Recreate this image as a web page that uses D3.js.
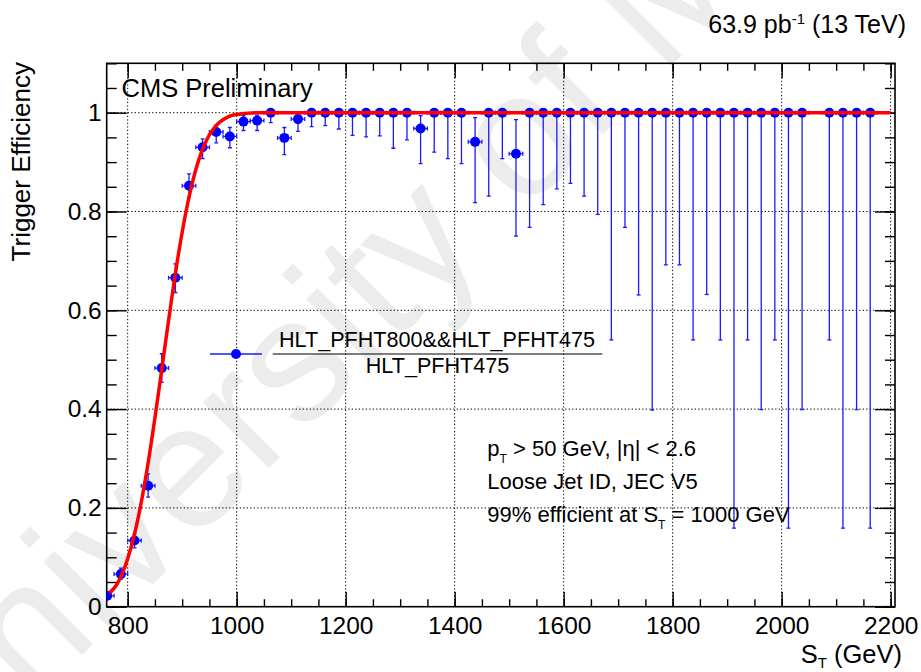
<!DOCTYPE html>
<html><head><meta charset="utf-8">
<script src="https://cdn.jsdelivr.net/npm/d3@7"></script>
<style>
body{margin:0;background:#fff;}
svg{display:block;}
text{font-family:"Liberation Sans",Arial,Helvetica,sans-serif;fill:#000;}
</style>
</head><body>
<svg id="c" width="921" height="672"></svg>
<script>
// ---------------- data ----------------
const binCenters = [762.5,787.5,812.5,837.5,862.5,887.5,912.5,937.5,962.5,987.5,
  1012.5,1037.5,1062.5,1087.5,1112.5,1137.5,1162.5,1187.5,1212.5,1237.5,
  1262.5,1287.5,1312.5,1337.5,1362.5,1387.5,1412.5,1437.5,1462.5,1487.5,
  1512.5,1537.5,1562.5,1587.5,1612.5,1637.5,1662.5,1687.5,1712.5,1737.5,
  1762.5,1787.5,1812.5,1837.5,1862.5,1887.5,1912.5,1937.5,1962.5,1987.5,
  2012.5,2037.5,2087.5,2112.5,2137.5,2162.5];
const efficiency = [0.022,0.066,0.134,0.245,0.483,0.666,0.852,0.930,0.961,0.952,
  0.982,0.984,1.0,0.949,0.987,1,1,1,1,1,
  1,1,1,0.968,1,1,1,0.941,1,1,
  0.917,1,1,1,1,1,1,1,1,1,
  1,1,1,1,1,1,1,1,1,1,
  1,1,1,1,1,1];
const errLowEnd = [0.017,0.056,0.119,0.222,0.454,0.636,0.829,0.907,0.939,0.929,
  0.964,0.964,0.980,0.915,0.962,0.972,0.974,0.967,0.954,0.951,
  0.953,0.928,0.945,0.897,0.920,0.907,0.897,0.818,0.831,0.907,
  0.750,0.768,0.814,0.846,0.857,0.831,0.794,0.540,0.768,0.631,
  0.398,0.692,0.692,0.540,0.632,0.540,0.159,0.540,0.399,0.540,
  0.159,0.399,0.540,0.159,0.399,0.159];
const errHighEnd = [0.027,0.078,0.147,0.269,0.512,0.694,0.876,0.947,0.975,0.970,
  0.994,0.995,1,0.970,0.996,1,1,1,1,1,
  1,1,1,0.994,1,1,1,0.990,1,1,
  0.986,1,1,1,1,1,1,1,1,1,
  1,1,1,1,1,1,1,1,1,1,
  1,1,1,1,1,1];
const binHalfWidth = 12.5;
// fitted turn-on curve
const fitX = [767,780,790,800,810,820,830,840,850,860,870,880,890,900,910,920,930,940,950,960,970,980,990,1000,1010,1020,1030,1040,1060,2200];
const fitY = [0.028,0.045,0.067,0.097,0.136,0.184,0.242,0.308,0.382,0.460,0.540,0.618,0.692,0.758,0.816,0.864,0.903,0.933,0.955,0.971,0.982,0.989,0.994,0.9965,0.998,0.999,0.9995,1.0,1.0,1.0];
const xMajorTicks = [800,1000,1200,1400,1600,1800,2000,2200];
const yMajorTicks = [0,0.2,0.4,0.6,0.8,1.0];
const yTickLabels = ["0","0.2","0.4","0.6","0.8","1"];
const xMinorTicks = d3.range(800, 2201, 50);
const yMinorTicks = d3.range(0, 1.101, 0.05);

// ---------------- layout ----------------
const L = 106.7, R = 895, T = 63.3, B = 606.7;
const svg = d3.select("#c");
const x = d3.scaleLinear().domain([761.5, 2208]).range([L, R]);
const y = d3.scaleLinear().domain([0, 1.1]).range([B, T]);

// watermark
svg.append("text")
  .attr("transform", "translate(-58,795) rotate(-45)")
  .attr("font-size", 176)
  .style("fill", "#ececec")
  .text("University of Maryland");

// grid
const grid = svg.append("g").attr("stroke", "#000").attr("stroke-width", 1).attr("stroke-dasharray", "1.3,2.2");
grid.selectAll(".gx").data(xMajorTicks).join("line")
  .attr("x1", d => x(d)).attr("x2", d => x(d)).attr("y1", T).attr("y2", B);
grid.selectAll(".gy").data(yMajorTicks.filter(d => d > 0)).join("line")
  .attr("y1", d => y(d)).attr("y2", d => y(d)).attr("x1", L).attr("x2", R);

// axes (ticks inward)
function styleAxis(g){ g.select(".domain").remove(); g.selectAll("line").attr("stroke","#000").attr("stroke-width",1.4); }
svg.append("g").attr("transform", `translate(0,${B})`)
  .call(d3.axisBottom(x).tickValues(xMinorTicks).tickSize(-7.5).tickFormat(""))
  .call(styleAxis);
svg.append("g").attr("transform", `translate(0,${B})`)
  .call(d3.axisBottom(x).tickValues(xMajorTicks).tickSize(-15).tickPadding(9.5).tickFormat(d3.format("d")))
  .call(styleAxis)
  .call(g => g.selectAll("text").attr("font-size", 24.5).style("font-family", "Liberation Sans, Arial, sans-serif"));
svg.append("g").attr("transform", `translate(0,${T})`)
  .call(d3.axisTop(x).tickValues(xMinorTicks).tickSize(-7.5).tickFormat(""))
  .call(styleAxis);
svg.append("g").attr("transform", `translate(0,${T})`)
  .call(d3.axisTop(x).tickValues(xMajorTicks).tickSize(-15).tickFormat(""))
  .call(styleAxis);
svg.append("g").attr("transform", `translate(${L},0)`)
  .call(d3.axisLeft(y).tickValues(yMinorTicks).tickSize(-10).tickFormat(""))
  .call(styleAxis);
svg.append("g").attr("transform", `translate(${L},0)`)
  .call(d3.axisLeft(y).tickValues(yMajorTicks).tickSize(-20).tickPadding(5).tickFormat((d,i) => yTickLabels[i]))
  .call(styleAxis)
  .call(g => g.selectAll("text").attr("font-size", 24.5).style("font-family", "Liberation Sans, Arial, sans-serif"));
svg.append("g").attr("transform", `translate(${R},0)`)
  .call(d3.axisRight(y).tickValues(yMinorTicks).tickSize(-10).tickFormat(""))
  .call(styleAxis);
svg.append("g").attr("transform", `translate(${R},0)`)
  .call(d3.axisRight(y).tickValues(yMajorTicks).tickSize(-20).tickFormat(""))
  .call(styleAxis);

// frame
svg.append("rect").attr("x", L).attr("y", T).attr("width", R - L).attr("height", B - T)
  .attr("fill", "none").attr("stroke", "#000").attr("stroke-width", 1.6);

// data
const pts = binCenters.map((c, i) => ({c, e: efficiency[i], lo: errLowEnd[i], hi: errHighEnd[i]}));
svg.append("clipPath").attr("id", "clip").append("rect")
  .attr("x", L).attr("y", T).attr("width", R - L).attr("height", B - T);
const plot = svg.append("g").attr("clip-path", "url(#clip)");
const eb = plot.append("g").attr("stroke", "#1a1aff").attr("stroke-width", 1.3).attr("fill", "none");
const cap = 2;
pts.forEach(p => {
  const cx = x(p.c), cy = y(p.e);
  const x0 = x(p.c - binHalfWidth), x1 = x(p.c + binHalfWidth);
  eb.append("line").attr("x1", x0).attr("x2", x1).attr("y1", cy).attr("y2", cy);
  eb.append("line").attr("x1", x0).attr("x2", x0).attr("y1", cy - cap).attr("y2", cy + cap);
  eb.append("line").attr("x1", x1).attr("x2", x1).attr("y1", cy - cap).attr("y2", cy + cap);
  if (p.hi > p.e) {
    eb.append("line").attr("x1", cx).attr("x2", cx).attr("y1", y(p.hi)).attr("y2", cy);
    eb.append("line").attr("x1", cx - cap).attr("x2", cx + cap).attr("y1", y(p.hi)).attr("y2", y(p.hi));
  }
  if (p.lo < p.e) {
    eb.append("line").attr("x1", cx).attr("x2", cx).attr("y1", cy).attr("y2", y(p.lo));
    eb.append("line").attr("x1", cx - cap).attr("x2", cx + cap).attr("y1", y(p.lo)).attr("y2", y(p.lo));
  }
});
plot.append("g").selectAll("circle").data(pts).join("circle")
  .attr("cx", d => x(d.c)).attr("cy", d => y(d.e)).attr("r", 5).attr("fill", "#0000ff");

// fit curve
const line = d3.line().x((d, i) => x(fitX[i])).y(d => y(d)).curve(d3.curveMonotoneX);
plot.append("path").attr("d", line(fitY)).attr("fill", "none").attr("stroke", "#ff0000").attr("stroke-width", 3.5);

// texts
svg.append("text").attr("x", 121.5).attr("y", 97).attr("font-size", 25.5).text("CMS Preliminary");
const lumi = svg.append("text").attr("x", 906).attr("y", 32.5).attr("font-size", 25).attr("text-anchor", "end");
lumi.append("tspan").text("63.9 pb");
lumi.append("tspan").attr("font-size", 15).attr("dy", -9).text("-1");
lumi.append("tspan").attr("dy", 9).text(" (13 TeV)");

svg.append("text").attr("transform", "translate(30,62) rotate(-90)").attr("text-anchor", "end")
  .attr("font-size", 26).text("Trigger Efficiency");
const xt = svg.append("text").attr("x", 902).attr("y", 663).attr("text-anchor", "end").attr("font-size", 25.5);
xt.append("tspan").text("S");
xt.append("tspan").attr("font-size", 15).attr("dy", 5).text("T");
xt.append("tspan").attr("dy", -5).text(" (GeV)");

// legend
svg.append("line").attr("x1", 210).attr("x2", 262).attr("y1", 354).attr("y2", 354).attr("stroke", "#1a1aff").attr("stroke-width", 1.5);
svg.append("circle").attr("cx", 236).attr("cy", 354).attr("r", 5).attr("fill", "#0000ff");
svg.append("text").attr("x", 437).attr("y", 346.7).attr("text-anchor", "middle").attr("font-size", 21.6).text("HLT_PFHT800&&HLT_PFHT475");
svg.append("line").attr("x1", 272.7).attr("x2", 602.3).attr("y1", 354).attr("y2", 354).attr("stroke", "#000").attr("stroke-width", 1.2);
svg.append("text").attr("x", 437.5).attr("y", 373.3).attr("text-anchor", "middle").attr("font-size", 21.6).text("HLT_PFHT475");

// info text
const t1 = svg.append("text").attr("x", 487.3).attr("y", 455.7).attr("font-size", 22);
t1.append("tspan").text("p");
t1.append("tspan").attr("font-size", 12).attr("dy", 7).text("T");
t1.append("tspan").attr("dy", -7).text(" > 50 GeV, |η| < 2.6");
svg.append("text").attr("x", 487.3).attr("y", 489).attr("font-size", 22).text("Loose Jet ID, JEC V5");
const t3 = svg.append("text").attr("x", 487.3).attr("y", 522.3).attr("font-size", 22);
t3.append("tspan").text("99% efficient at S");
t3.append("tspan").attr("font-size", 12).attr("dy", 7).text("T");
t3.append("tspan").attr("dy", -7).text(" = 1000 GeV");
</script>
</body></html>
